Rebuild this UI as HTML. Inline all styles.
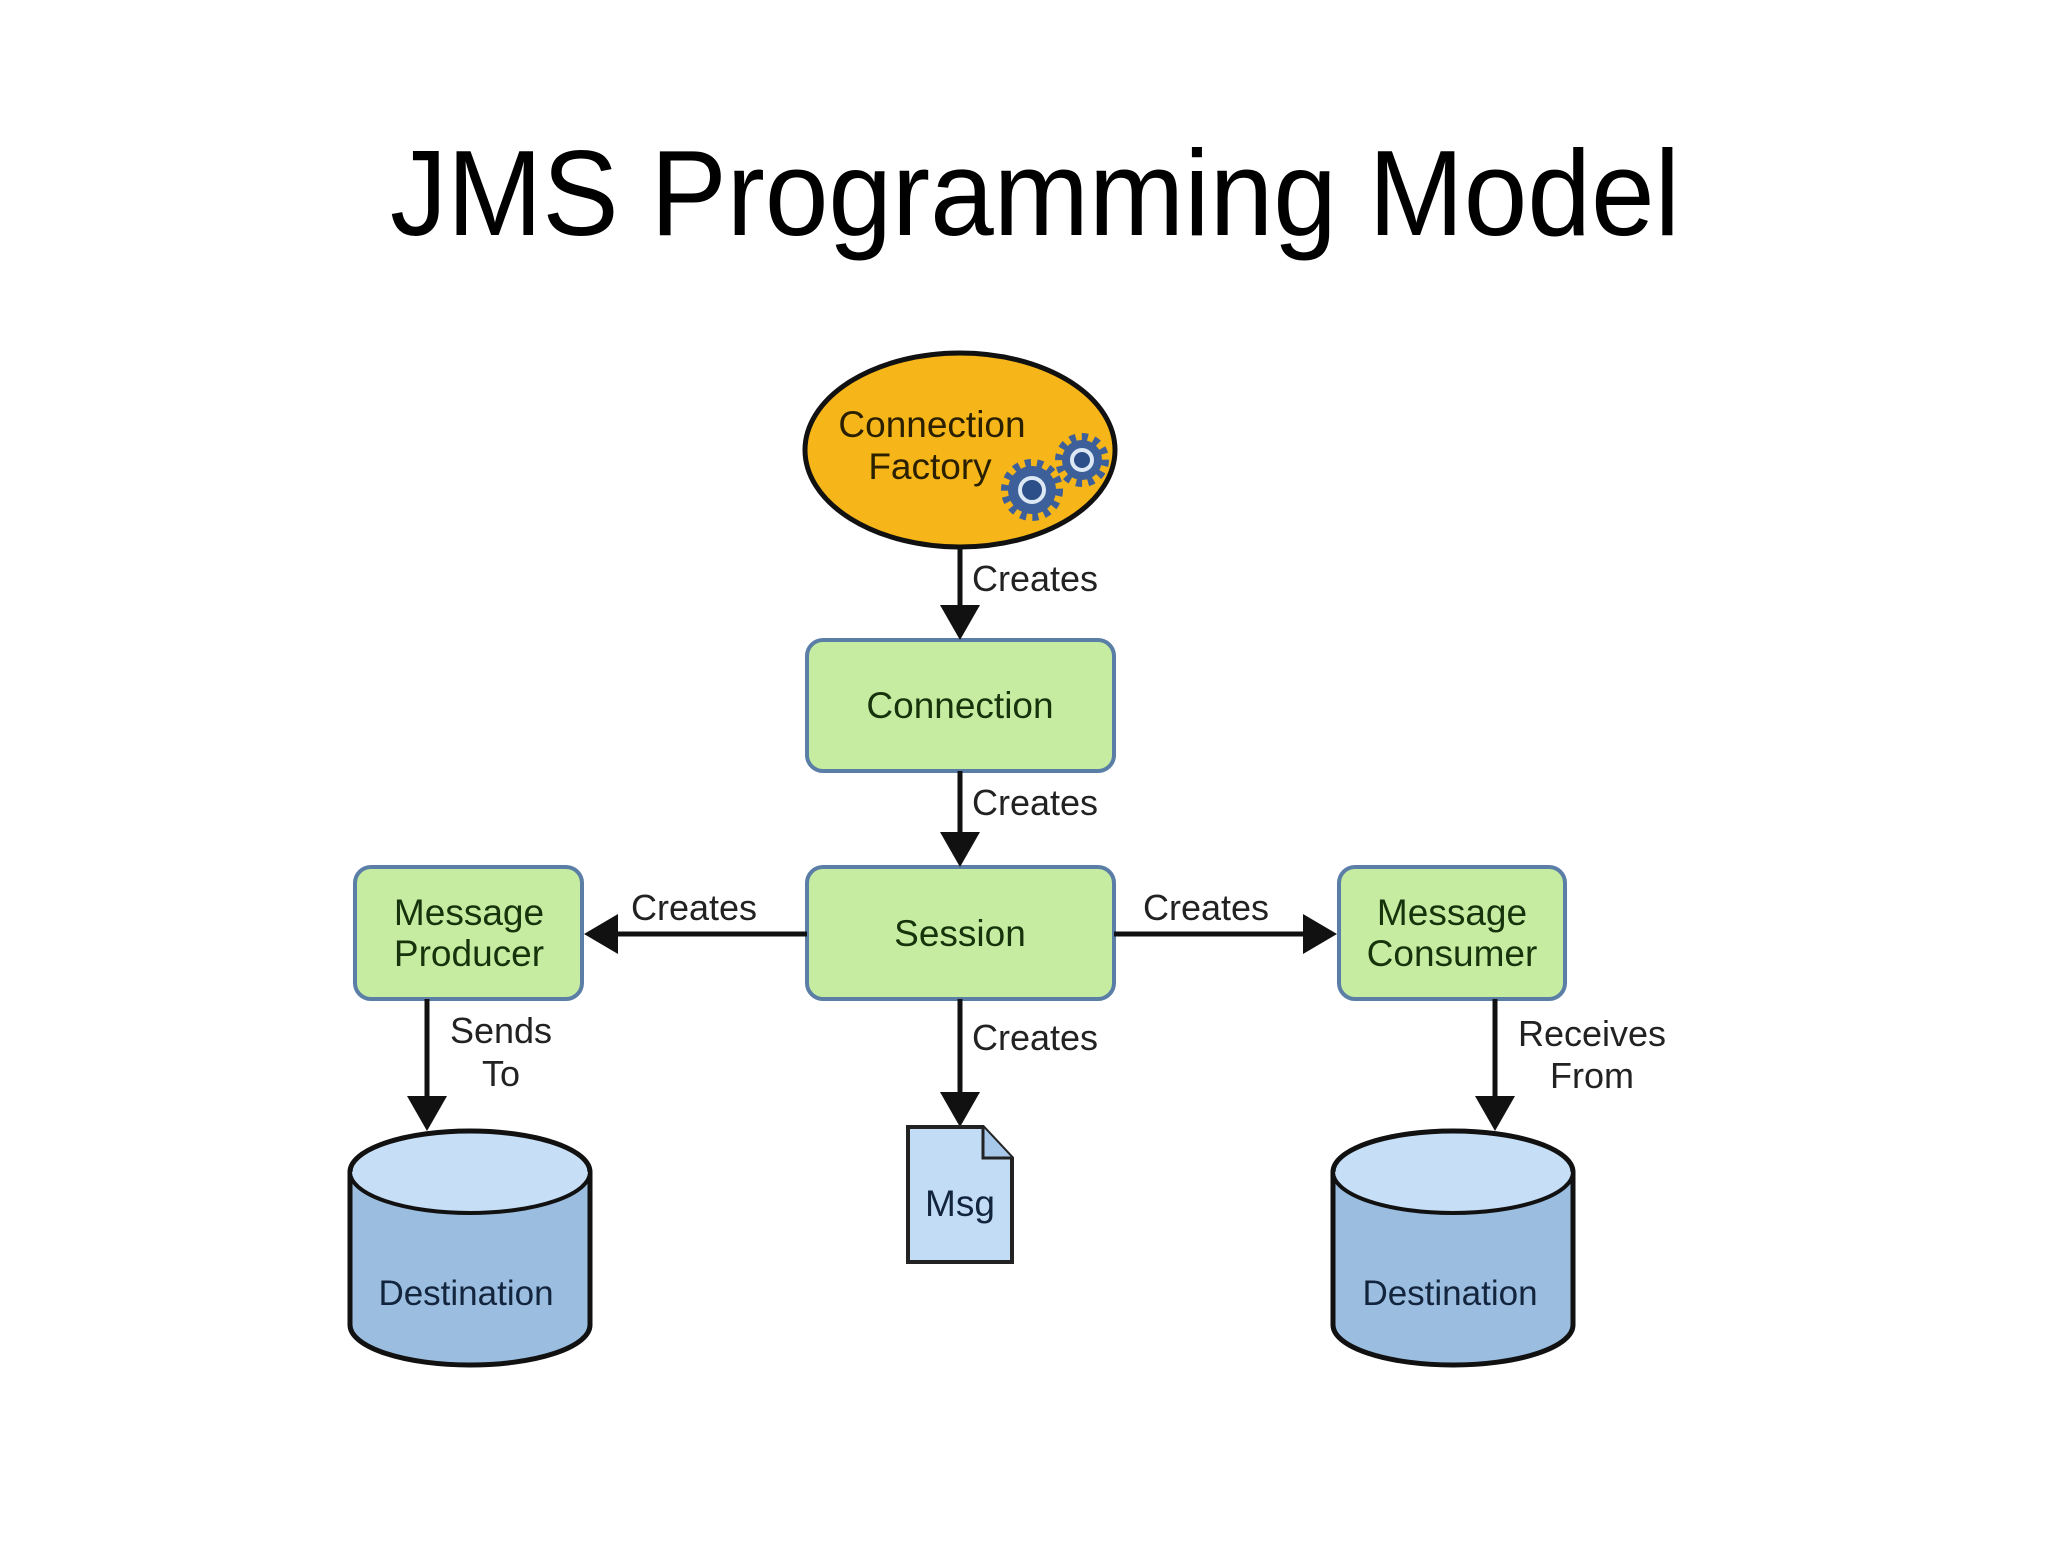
<!DOCTYPE html>
<html><head><meta charset="utf-8"><style>html,body{margin:0;padding:0;background:#fff}</style></head>
<body>
<svg width="2048" height="1536" viewBox="0 0 2048 1536" xmlns="http://www.w3.org/2000/svg" font-family="Liberation Sans, sans-serif">
<defs>
<marker id="ah" markerWidth="10" markerHeight="10" refX="9" refY="5" orient="auto" markerUnits="userSpaceOnUse" viewBox="0 0 10 10">
</marker>
</defs>
<text x="1035" y="235" font-size="122" text-anchor="middle" textLength="1290" lengthAdjust="spacingAndGlyphs" fill="#000">JMS Programming Model</text>

<!-- Ellipse -->
<ellipse cx="960" cy="450" rx="155" ry="97" fill="#f6b519" stroke="#111" stroke-width="5"/>
<text x="932" y="437" font-size="37" text-anchor="middle" fill="#2a2000">Connection</text>
<text x="930" y="479" font-size="37" text-anchor="middle" fill="#2a2000">Factory</text>
<g fill="#3d5f9a">
<circle cx="1032" cy="490" r="24"/><circle cx="1082" cy="460" r="20"/>
</g>
<g stroke="#3d5f9a" stroke-width="8" stroke-dasharray="6 6">
<circle cx="1032" cy="490" r="27" fill="none"/><circle cx="1082" cy="460" r="23" fill="none"/>
</g>
<circle cx="1032" cy="490" r="12" fill="#2c4f8a" stroke="#dde8f5" stroke-width="4"/>
<circle cx="1082" cy="460" r="10" fill="#2c4f8a" stroke="#dde8f5" stroke-width="4"/>

<!-- boxes -->
<g fill="#c6eca2" stroke="#5a7ea6" stroke-width="4">
<rect x="807" y="640" width="307" height="131" rx="16"/>
<rect x="807" y="867" width="307" height="132" rx="16"/>
<rect x="355" y="867" width="227" height="132" rx="16"/>
<rect x="1339" y="867" width="226" height="132" rx="16"/>
</g>
<g font-size="37" text-anchor="middle" fill="#16330c">
<text x="960" y="718">Connection</text>
<text x="960" y="946">Session</text>
<text x="469" y="925">Message</text>
<text x="469" y="966">Producer</text>
<text x="1452" y="925">Message</text>
<text x="1452" y="966">Consumer</text>
</g>

<!-- connectors -->
<g stroke="#111" stroke-width="5">
<line x1="960" y1="549" x2="960" y2="610"/>
<line x1="960" y1="771" x2="960" y2="835"/>
<line x1="807" y1="934" x2="610" y2="934"/>
<line x1="1114" y1="934" x2="1310" y2="934"/>
<line x1="960" y1="999" x2="960" y2="1095"/>
<line x1="427" y1="999" x2="427" y2="1100"/>
<line x1="1495" y1="999" x2="1495" y2="1100"/>
</g>
<g fill="#111">
<polygon points="940,605 980,605 960,640"/>
<polygon points="940,832 980,832 960,867"/>
<polygon points="618,914 618,954 584,934"/>
<polygon points="1303,914 1303,954 1337,934"/>
<polygon points="940,1092 980,1092 960,1127"/>
<polygon points="407,1096 447,1096 427,1131"/>
<polygon points="1475,1096 1515,1096 1495,1131"/>
</g>
<g font-size="36" fill="#222">
<text x="972" y="591">Creates</text>
<text x="972" y="815">Creates</text>
<text x="631" y="920">Creates</text>
<text x="1143" y="920">Creates</text>
<text x="972" y="1050">Creates</text>
<text x="501" y="1043" text-anchor="middle">Sends</text>
<text x="501" y="1086" text-anchor="middle">To</text>
<text x="1592" y="1046" text-anchor="middle">Receives</text>
<text x="1592" y="1088" text-anchor="middle">From</text>
</g>

<!-- Msg doc -->
<path d="M908,1127 L983,1127 L1012,1158 L1012,1262 L908,1262 Z" fill="#c2dcf5" stroke="#222" stroke-width="4"/>
<path d="M983,1127 L983,1158 L1012,1158" fill="#a8c8ea" stroke="#222" stroke-width="3"/>
<text x="960" y="1216" font-size="37" text-anchor="middle" fill="#13243d">Msg</text>

<!-- Cylinders -->
<g stroke="#111" stroke-width="5">
<path d="M350,1172 L350,1325 A120,40 0 0 0 590,1325 L590,1172" fill="#9bbde0"/>
<ellipse cx="470" cy="1172" rx="120" ry="41" fill="#c6def6" stroke-width="4"/>
<path d="M350,1172 A120,41 0 0 1 590,1172" fill="none"/>
<path d="M1333,1172 L1333,1325 A120,40 0 0 0 1573,1325 L1573,1172" fill="#9bbde0"/>
<ellipse cx="1453" cy="1172" rx="120" ry="41" fill="#c6def6" stroke-width="4"/>
<path d="M1333,1172 A120,41 0 0 1 1573,1172" fill="none"/>
</g>
<text x="466" y="1305" font-size="35" text-anchor="middle" fill="#13243d">Destination</text>
<text x="1450" y="1305" font-size="35" text-anchor="middle" fill="#13243d">Destination</text>
</svg>
</body></html>
